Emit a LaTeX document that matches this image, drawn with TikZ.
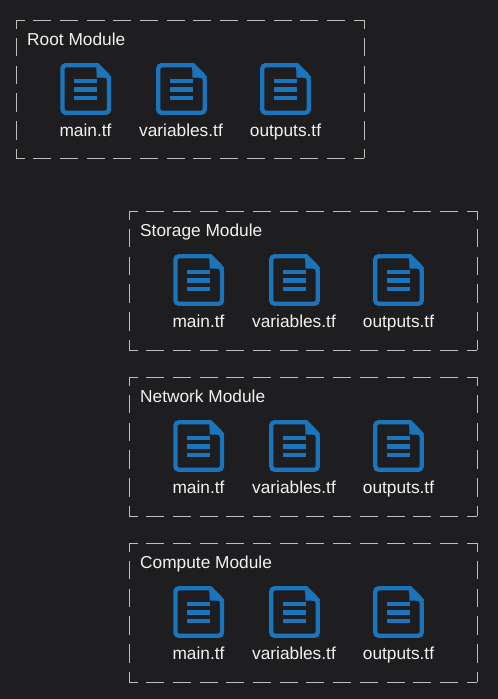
\documentclass[tikz,border=0pt]{standalone}
\usepackage{fontspec}
\setmainfont{Liberation Sans}
\definecolor{bgc}{HTML}{1E1E20}
\definecolor{iconblue}{HTML}{1B75BC}
\definecolor{txtc}{HTML}{F2F2F2}
\definecolor{dashc}{HTML}{BEBEBE}
\tikzset{
  hdash/.style={draw=dashc,line width=1pt,dash pattern=on 18pt off 8.7pt,dash phase=9.5pt},
  vdash/.style={draw=dashc,line width=1pt,dash pattern=on 18.5pt off 9.3pt,dash phase=10pt},
  modtitle/.style={anchor=base west,inner sep=0pt,text=txtc,font=\fontsize{17.3pt}{20pt}\selectfont},
  filelabel/.style={anchor=base,inner sep=0pt,text=txtc,font=\fontsize{17.3pt}{20pt}\selectfont},
  fileicon/.pic={
    \draw[iconblue,line width=4.3pt,line join=miter,rounded corners=3.5pt]
      (37,2.2) -- (2.2,2.2) -- (2.2,49.8) -- (48.8,49.8) -- (48.8,14) [sharp corners] -- (37,2.2) -- cycle;
    \fill[iconblue] (36,0.5) -- (36.5,14.5) -- (50.9,15) -- (50.9,13.5) -- (38,0.5) -- cycle;
    \foreach \yy in {16,24.4,33}
      \fill[iconblue] (13.5,\yy) rectangle (37,\yy+4.2);
  }
}
\newcommand{\modulebox}[5]{% name, x, y, height, title
  \begin{scope}[shift={(#2,#3)}]
    \coordinate (#1tl) at (0,0);
    \coordinate (#1tr) at (348,0);
    \coordinate (#1bl) at (0,#4);
    \coordinate (#1br) at (348,#4);
    \draw[hdash] (#1tl) -- (#1tr);
    \draw[hdash] (#1bl) -- (#1br);
    \draw[vdash] (#1tl) -- (#1bl);
    \draw[vdash] (#1tr) -- (#1br);
    \node[modtitle] (#1title) at (11,25.6) {#5};
    \pic at (44.2,43) {fileicon};
    \pic at (140,43) {fileicon};
    \pic at (244,43) {fileicon};
    \node[filelabel] (#1main) at (69.5,116.3) {main.tf};
    \node[filelabel] (#1vars) at (165,116.3) {variables.tf};
    \node[filelabel] (#1outs) at (269.5,116.3) {outputs.tf};
  \end{scope}
}
\begin{document}
\begin{tikzpicture}[x=1pt,y=-1pt]
  \fill[bgc] (0,0) rectangle (498,699);
  \useasboundingbox (0,0) rectangle (498,699);
  \modulebox{root}{16}{20}{138}{Root Module}
  \modulebox{storage}{129}{211}{139}{Storage Module}
  \modulebox{network}{129}{377}{139}{Network Module}
  \modulebox{compute}{129}{543}{139}{Compute Module}
\end{tikzpicture}
\end{document}
